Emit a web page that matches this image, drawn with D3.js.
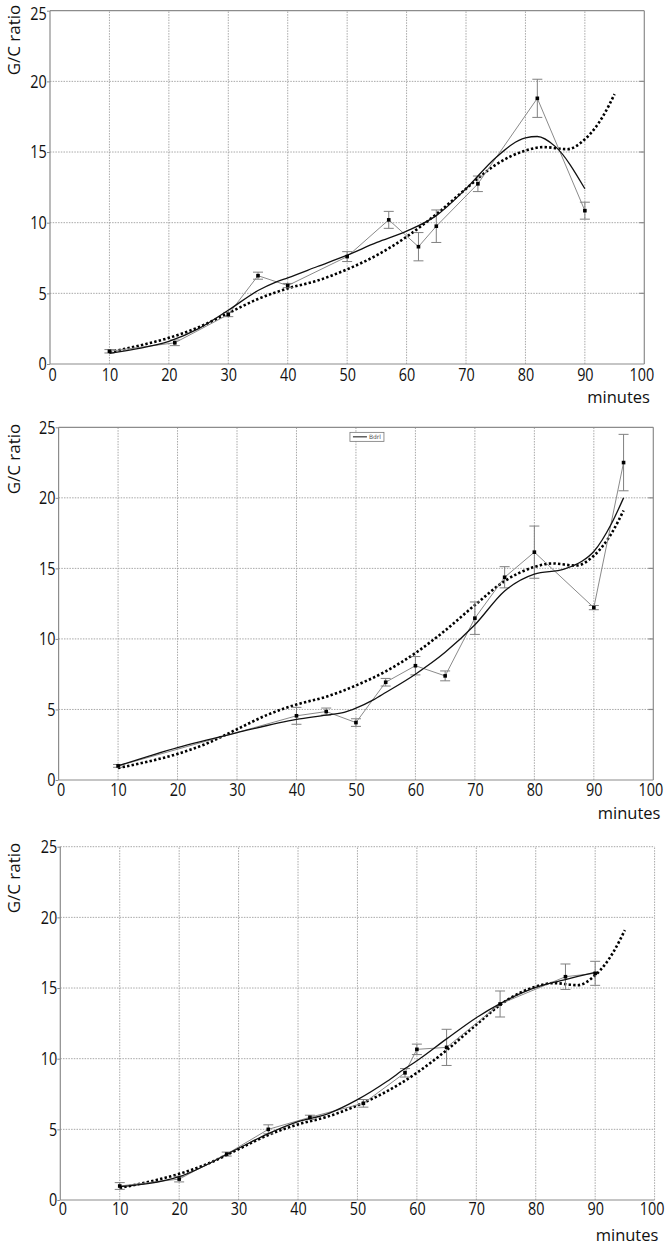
<!DOCTYPE html>
<html>
<head>
<meta charset="utf-8">
<script src="https://cdn.jsdelivr.net/npm/d3@7"></script>
<style>
  html, body { margin: 0; padding: 0; background: #fff; }
  svg { display: block; }
  .tick text { font-family: "Open Sans", "Noto Sans", sans-serif; font-size: 18px; fill: #111; }
  .lbl { font-family: "Open Sans", "Noto Sans", sans-serif; font-size: 16.5px; fill: #111; }
  .ylbl { font-family: "Open Sans", "Noto Sans", sans-serif; font-size: 17px; fill: #111; }
</style>
</head>
<body>
<script>
// ---- shared ticks ----
const xTicks = [0, 10, 20, 30, 40, 50, 60, 70, 80, 90, 100];
const yTicks = [0, 5, 10, 15, 20, 25];

// ---- dotted reference curve (same in all three panels) ----
const refX = [10, 15, 20, 25, 30, 35, 40, 45, 50, 55, 60, 65, 70, 75, 80, 83, 87, 90, 93, 95];
const refY = [0.85, 1.3, 1.85, 2.6, 3.6, 4.6, 5.35, 5.9, 6.7, 7.7, 9.0, 10.6, 12.4, 14.1, 15.1, 15.35, 15.2, 15.9, 17.5, 19.1];

// ---- panel 1 ----
const p1X   = [10, 21, 30, 35, 40, 50, 57, 62, 65, 72, 82, 90];
const p1Y   = [0.9, 1.5, 3.5, 6.25, 5.55, 7.6, 10.2, 8.3, 9.75, 12.75, 18.8, 10.85];
const p1Err = [0.12, 0.2, 0.15, 0.25, 0.15, 0.35, 0.6, 1.0, 1.15, 0.55, 1.35, 0.6];
const p1FitX = [10, 15, 20, 25, 30, 35, 38, 40, 45, 50, 55, 60, 65, 70, 75, 80, 82, 85, 90];
const p1FitY = [0.75, 1.1, 1.6, 2.5, 3.8, 5.2, 5.8, 6.1, 6.9, 7.7, 8.6, 9.4, 10.5, 12.4, 14.6, 16.0, 16.1, 15.4, 12.4];

// ---- panel 2 ----
const p2X   = [10, 40, 45, 50, 55, 60, 65, 70, 75, 80, 90, 95];
const p2Y   = [1.0, 4.55, 4.85, 4.07, 6.93, 8.1, 7.38, 11.47, 14.37, 16.15, 12.22, 22.5];
const p2Err = [0.1, 0.6, 0.25, 0.27, 0.27, 0.65, 0.35, 1.15, 0.75, 1.85, 0.15, 2.0];
const p2FitX = [10, 20, 30, 40, 45, 48, 50, 53, 55, 60, 65, 70, 75, 80, 85, 88, 90, 93, 95];
const p2FitY = [1.0, 2.3, 3.35, 4.3, 4.6, 4.8, 5.1, 5.7, 6.2, 7.5, 9.05, 11.0, 13.4, 14.6, 14.95, 15.5, 16.2, 18.2, 20.0];
const p2Legend = ["Bdrl"];

// ---- panel 3 ----
const p3X   = [10, 20, 28, 35, 42, 51, 58, 60, 65, 74, 85, 90];
const p3Y   = [0.99, 1.48, 3.25, 5.0, 5.85, 6.84, 9.0, 10.66, 10.8, 13.87, 15.8, 16.04];
const p3Err = [0.24, 0.2, 0.14, 0.32, 0.15, 0.27, 0.3, 0.37, 1.28, 0.92, 0.9, 0.85];
const p3FitX = [10, 20, 30, 35, 40, 45, 50, 55, 58, 60, 65, 70, 74, 80, 85, 90];
const p3FitY = [0.94, 1.65, 3.66, 4.7, 5.55, 6.1, 7.1, 8.4, 9.3, 9.85, 11.4, 12.9, 13.9, 15.05, 15.6, 16.1];

const yLabel = "G/C ratio";
const xLabel = "minutes";

const W = 670, H = 1244;
const NARROW = 0.8;
const svg = d3.select("body").append("svg").attr("width", W).attr("height", H);
svg.append("rect").attr("width", W).attr("height", H).attr("fill", "#fff");

const GRID = "#a8a8a8", FRAME = "#8c8c8c";

function drawPanel(o) {
  const x = d3.scaleLinear().domain([0, 100]).range([o.x0, o.x1]);
  const y = d3.scaleLinear().domain([0, 25]).range([o.y0, o.y1]);
  const g = svg.append("g");

  // grid
  g.append("g").selectAll("line").data(xTicks.filter(t => t > 0 && (o.dottedRight ? true : t < 100)))
    .join("line").attr("x1", d => x(d)).attr("x2", d => x(d)).attr("y1", y(0)).attr("y2", y(25))
    .attr("stroke", GRID).attr("stroke-width", 1).attr("stroke-dasharray", "1.5,1.2");
  g.append("g").selectAll("line").data(yTicks.filter(t => t > 0 && (o.dottedTop ? true : t < 25)))
    .join("line").attr("x1", x(0)).attr("x2", x(100)).attr("y1", d => y(d)).attr("y2", d => y(d))
    .attr("stroke", GRID).attr("stroke-width", 1).attr("stroke-dasharray", "1.5,1.2");

  // frame
  const fr = g.append("g").attr("stroke", FRAME).attr("stroke-width", 1.2).attr("fill", "none");
  fr.append("line").attr("x1", x(0)).attr("x2", x(100)).attr("y1", y(0)).attr("y2", y(0));
  fr.append("line").attr("x1", x(0)).attr("x2", x(0)).attr("y1", y(0)).attr("y2", y(25));
  if (!o.dottedTop) fr.append("line").attr("x1", x(0)).attr("x2", x(100)).attr("y1", y(25)).attr("y2", y(25));
  if (!o.dottedRight) {
    fr.append("line").attr("x1", x(100)).attr("x2", x(100)).attr("y1", y(0)).attr("y2", y(25));
    fr.append("g").selectAll("line").data(yTicks.slice(1, -1)).join("line")
      .attr("x1", x(100) - 5).attr("x2", x(100)).attr("y1", d => y(d)).attr("y2", d => y(d));
  }

  // axes (labels only)
  const ax = g.append("g").attr("transform", `translate(0,${y(0)})`)
    .call(d3.axisBottom(x).tickValues(xTicks).tickSize(0).tickPadding(o.xpad).tickFormat(d3.format("d")));
  ax.select(".domain").remove();
  ax.selectAll(".tick text").attr("transform", d => `translate(${d === 0 ? 2 : (d === 100 ? -3 : 0)},0) scale(${NARROW},1)`);
  const ay = g.append("g").attr("transform", `translate(${x(0)},0)`)
    .call(d3.axisLeft(y).tickValues(yTicks).tickSize(3).tickPadding(1).tickFormat(d3.format("d")));
  ay.select(".domain").remove();
  ay.selectAll(".tick line").attr("stroke", FRAME);
  ay.selectAll(".tick text").attr("transform", d => `translate(0,${d === 25 && o.shiftTop ? o.shiftTop : 0}) scale(${NARROW},1)`);

  // axis titles
  g.append("text").attr("class", "ylbl").attr("transform", `translate(${o.ylx},${o.yly}) rotate(-90)`)
    .attr("text-anchor", "middle").attr("dominant-baseline", "central").text(yLabel);
  g.append("text").attr("class", "lbl").attr("x", o.mx).attr("y", o.my)
    .attr("text-anchor", "end").attr("dominant-baseline", "central").text(xLabel);

  const pts = o.xs.map((v, i) => ({ x: v, y: o.ys[i], e: o.es[i] }));

  // dotted reference
  const ref = refX.map((v, i) => [v, refY[i]]);
  g.append("path").datum(ref).attr("fill", "none").attr("stroke", "#000").attr("stroke-width", 2.6)
    .attr("stroke-dasharray", "2.4,2.2")
    .attr("d", d3.line().x(d => x(d[0])).y(d => y(d[1])).curve(d3.curveMonotoneX));

  // gray data line
  g.append("path").datum(pts).attr("fill", "none").attr("stroke", "#8a8a8a").attr("stroke-width", 1)
    .attr("d", d3.line().x(d => x(d.x)).y(d => y(d.y)));

  // error bars
  const eb = g.append("g").attr("stroke", "#808080").attr("stroke-width", 1);
  eb.selectAll(".v").data(pts).join("line")
    .attr("x1", d => x(d.x)).attr("x2", d => x(d.x)).attr("y1", d => y(d.y - d.e)).attr("y2", d => y(d.y + d.e));
  eb.selectAll(".t").data(pts).join("line")
    .attr("x1", d => x(d.x) - 5).attr("x2", d => x(d.x) + 5).attr("y1", d => y(d.y + d.e)).attr("y2", d => y(d.y + d.e));
  eb.selectAll(".b").data(pts).join("line")
    .attr("x1", d => x(d.x) - 5).attr("x2", d => x(d.x) + 5).attr("y1", d => y(d.y - d.e)).attr("y2", d => y(d.y - d.e));

  // fit curve
  const fit = o.fx.map((v, i) => [v, o.fy[i]]);
  g.append("path").datum(fit).attr("fill", "none").attr("stroke", "#111").attr("stroke-width", 1.3)
    .attr("d", d3.line().x(d => x(d[0])).y(d => y(d[1])).curve(d3.curveMonotoneX));

  // points (small squares)
  g.append("g").selectAll("rect").data(pts).join("rect")
    .attr("x", d => x(d.x) - 1.8).attr("y", d => y(d.y) - 1.8).attr("width", 3.6).attr("height", 3.6).attr("fill", "#000");

  return { x, y, g };
}

drawPanel({ x0: 50, x1: 644.3, y0: 364, y1: 10.7, xs: p1X, ys: p1Y, es: p1Err, fx: p1FitX, fy: p1FitY,
  xpad: 4.5, ylx: 13, yly: 40, mx: 650, my: 396, shiftTop: 3, dottedTop: false, dottedRight: false });

const P2 = drawPanel({ x0: 58.6, x1: 653.3, y0: 780, y1: 427.3, xs: p2X, ys: p2Y, es: p2Err, fx: p2FitX, fy: p2FitY,
  xpad: 3.5, ylx: 13, yly: 459, mx: 660.5, my: 812, dottedTop: false, dottedRight: false });

// legend in panel 2
{
  const lx = P2.x(50) - 6, ly = P2.y(24.5) - 2;
  const lg = P2.g.append("g");
  lg.append("rect").attr("x", lx).attr("y", ly).attr("width", 34).attr("height", 9)
    .attr("fill", "#fff").attr("stroke", "#777").attr("stroke-width", 0.8);
  lg.append("line").attr("x1", lx + 3).attr("x2", lx + 17).attr("y1", ly + 4.5).attr("y2", ly + 4.5)
    .attr("stroke", "#111").attr("stroke-width", 1);
  lg.append("text").attr("x", lx + 19).attr("y", ly + 7).attr("font-size", 6)
    .attr("font-family", "DejaVu Sans, sans-serif").attr("fill", "#555").text(p2Legend[0]);
}

drawPanel({ x0: 60.3, x1: 654.6, y0: 1200, y1: 846.7, xs: p3X, ys: p3Y, es: p3Err, fx: p3FitX, fy: p3FitY,
  xpad: 2, ylx: 13, yly: 878, mx: 658.4, my: 1234, dottedTop: true, dottedRight: true });
</script>
</body>
</html>
